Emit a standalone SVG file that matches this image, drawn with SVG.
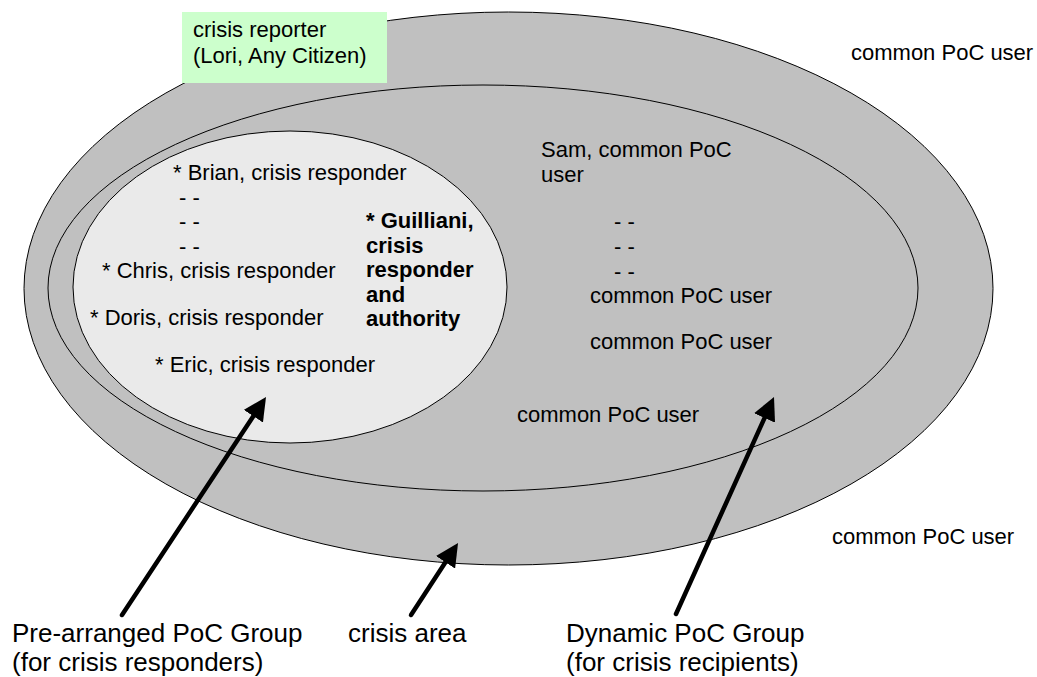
<svg xmlns="http://www.w3.org/2000/svg" width="1037" height="677" viewBox="0 0 1037 677">
<style>
  text { font-family: "Liberation Sans", Arial, sans-serif; font-size: 22px; fill: #000; }
  .big { font-size: 26px; }
  .bold { font-weight: bold; }
  .area { stroke: #000; stroke-width: 1; }
  .arrow { stroke: #000; stroke-width: 4.5; stroke-linecap: round; fill: none; marker-end: url(#head); }
</style>
<defs>
  <marker id="head" viewBox="0 0 23 23" refX="5" refY="11.5" markerWidth="23" markerHeight="23" markerUnits="userSpaceOnUse" orient="auto">
    <path d="M0,0 L23,11.5 L0,23 Z" fill="#000"/>
  </marker>
</defs>
<rect width="1037" height="677" fill="#fff"/>

<g id="crisis-area">
  <ellipse class="area" cx="508.5" cy="288.5" rx="484.5" ry="276.5" fill="#c0c0c0"/>
</g>

<g id="crisis-reporter">
  <rect x="182" y="12" width="205" height="71" fill="#ccffcc"/>
  <text x="193" y="36.5">crisis reporter</text>
  <text x="193" y="63">(Lori, Any Citizen)</text>
</g>

<g id="dynamic-group">
  <ellipse class="area" cx="483" cy="288" rx="435" ry="203" fill="#c0c0c0"/>
  <text x="541" y="157">Sam, common PoC</text>
  <text x="541" y="182">user</text>
  <text x="614" y="229">- -</text>
  <text x="614" y="254">- -</text>
  <text x="614" y="279">- -</text>
  <text x="590" y="303">common PoC user</text>
  <text x="590" y="349">common PoC user</text>
  <text x="517" y="422">common PoC user</text>
</g>

<g id="prearranged-group">
  <ellipse class="area" cx="290" cy="287" rx="217" ry="156" fill="#eaeaea"/>
  <text x="173" y="180">* Brian, crisis responder</text>
  <text x="179" y="204.5">- -</text>
  <text x="179" y="229">- -</text>
  <text x="179" y="253.5">- -</text>
  <text x="102" y="277.5">* Chris, crisis responder</text>
  <text x="90" y="325">* Doris, crisis responder</text>
  <text x="155" y="372">* Eric, crisis responder</text>
  <text class="bold" x="366" y="228">* Guilliani,</text>
  <text class="bold" x="366" y="252.5">crisis</text>
  <text class="bold" x="366" y="277">responder</text>
  <text class="bold" x="366" y="301.5">and</text>
  <text class="bold" x="366" y="326">authority</text>
</g>

<g id="outside-users">
  <text x="851" y="60">common PoC user</text>
  <text x="832" y="544">common PoC user</text>
</g>

<g id="labels">
  <text class="big" x="12" y="642">Pre-arranged PoC Group</text>
  <text class="big" x="12" y="671">(for crisis responders)</text>
  <text class="big" x="348" y="642">crisis area</text>
  <text class="big" x="566" y="642">Dynamic PoC Group</text>
  <text class="big" x="566" y="671">(for crisis recipients)</text>
</g>

<g id="connectors">
  <line class="arrow" x1="122" y1="615" x2="256.1" y2="412"/>
  <line class="arrow" x1="411" y1="615" x2="448.2" y2="558.1"/>
  <line class="arrow" x1="676" y1="614" x2="766.6" y2="413.4"/>
</g>
</svg>
